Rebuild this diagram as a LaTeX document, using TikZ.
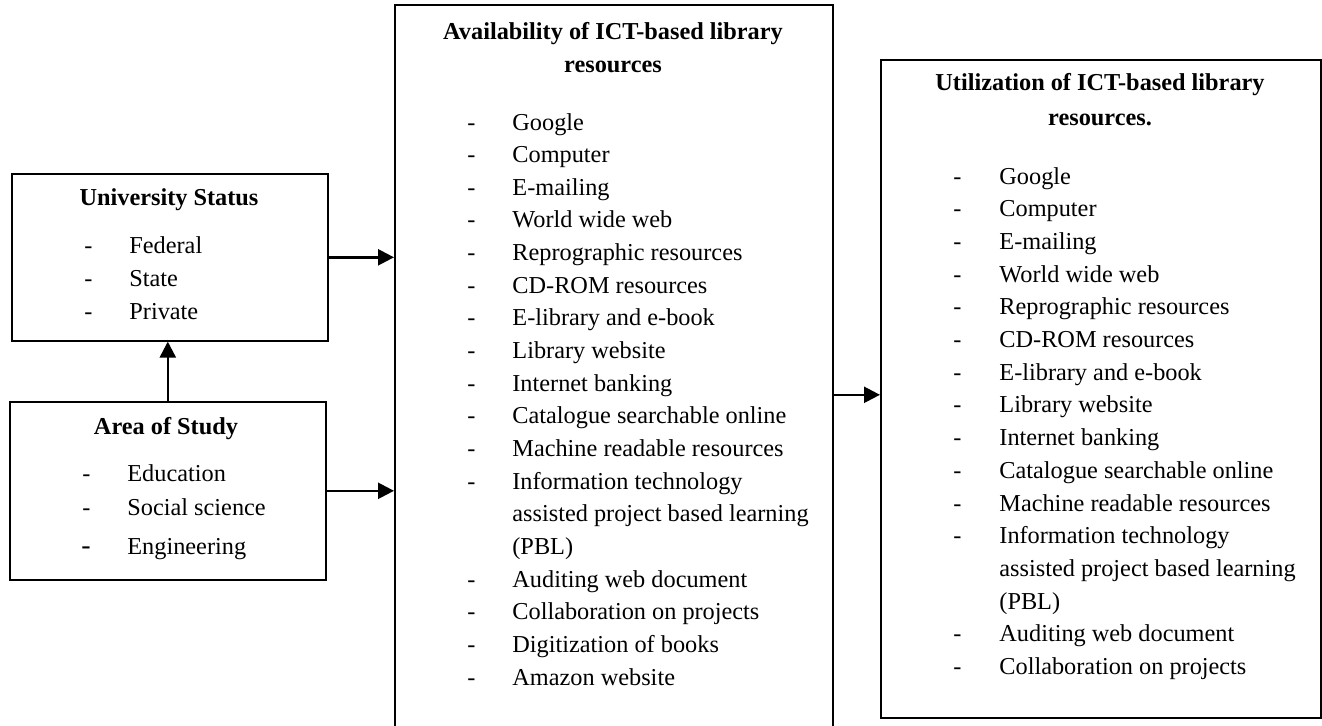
\documentclass[tikz,border=0pt]{standalone}
\usepackage{fontspec}
\setmainfont{Liberation Serif}
\usetikzlibrary{arrows.meta}
\newcommand{\itemfont}{\fontsize{12.15pt}{14pt}\selectfont}
\begin{document}
\begin{tikzpicture}[x=0.5pt,y=-0.5pt,
  box/.style={draw, line width=0.8pt, rectangle, anchor=north west, inner sep=0},
  ttl/.style={anchor=base, inner sep=0, font=\itemfont\bfseries},
  itm/.style={anchor=base west, inner sep=0, font=\itemfont},
  arr/.style={line width=1.2pt, -{Triangle[length=8pt,width=8pt]}}]
\useasboundingbox (0,0) rectangle (1322,725);
\clip (0,0) rectangle (1322,725);
\fill[white] (0,0) rectangle (1322,725);

% boxes
\node[box, minimum width=158pt, minimum height=83.5pt] (us) at (11,173) {};
\node[box, minimum width=158pt, minimum height=89pt] (as) at (9,401) {};
\node[box, minimum width=219pt, minimum height=390pt] (av) at (394,4) {};
\node[box, minimum width=220pt, minimum height=329pt] (ut) at (880,59) {};

% University Status
\node[ttl] (ust) at (169,205) {University Status};
\foreach \t [count=\i] in {Federal, State, Private} {
  \node[itm] (usd\i) at (84, {246+(\i-1)*33+7}) {-};
  \node[itm] (usi\i) at (129, {246+(\i-1)*33+7}) {\t};
}

% Area of Study
\node[ttl] (ast) at (166,434) {Area of Study};
\node[itm] (asd1) at (82,481) {-};
\node[itm] (asi1) at (127,481) {Education};
\node[itm] (asd2) at (82,515) {-};
\node[itm] (asi2) at (127,515) {Social science};
\node[itm, font=\fontsize{14pt}{16pt}\selectfont] (asd3) at (81,554) {-};
\node[itm] (asi3) at (127,554) {Engineering};

% Availability
\node[ttl] (avt1) at (613,39) {Availability of ICT-based library};
\node[ttl] (avt2) at (613,72) {resources};
\foreach \t [count=\i] in {Google, Computer, E-mailing, World wide web,
  Reprographic resources, CD-ROM resources, E-library and e-book,
  Library website, Internet banking, Catalogue searchable online,
  Machine readable resources, Information technology,
  assisted project based learning, (PBL), Auditing web document,
  Collaboration on projects, Digitization of books, Amazon website} {
  \node[itm] (avi\i) at (512, {123+(\i-1)*32.65+7}) {\t};
}
\foreach \i in {1,...,12,15,16,17,18} {
  \node[itm] (avd\i) at (467, {123+(\i-1)*32.65+7}) {-};
}

% Utilization
\node[ttl] (utt1) at (1100,90) {Utilization of ICT-based library};
\node[ttl] (utt2) at (1100,125) {resources.};
\foreach \t [count=\i] in {Google, Computer, E-mailing, World wide web,
  Reprographic resources, CD-ROM resources, E-library and e-book,
  Library website, Internet banking, Catalogue searchable online,
  Machine readable resources, Information technology,
  assisted project based learning, (PBL), Auditing web document,
  Collaboration on projects} {
  \node[itm] (uti\i) at (999, {177+(\i-1)*32.7+7}) {\t};
}
\foreach \i in {1,...,12,15,16} {
  \node[itm] (utd\i) at (953, {177+(\i-1)*32.7+7}) {-};
}

% connectors
\draw[arr] (us.east) -- (us.east -| av.west);
\draw[arr] (as.east) -- (as.east -| av.west);
\draw[arr] (as.north) -- (as.north |- us.south);
\draw[arr] (av.east) -- (av.east -| ut.west);
\end{tikzpicture}
\end{document}
